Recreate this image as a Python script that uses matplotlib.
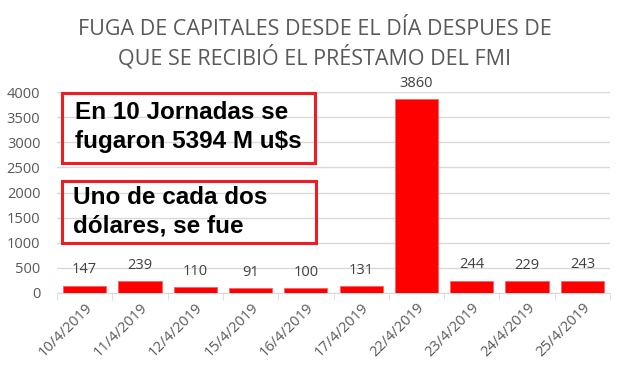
import matplotlib
matplotlib.use('Agg')
import matplotlib.pyplot as plt
import numpy as np

fechas = ['10/4/2019', '11/4/2019', '12/4/2019', '15/4/2019', '16/4/2019',
          '17/4/2019', '22/4/2019', '23/4/2019', '24/4/2019', '25/4/2019']
fuga = [147, 239, 110, 91, 100, 131, 3860, 244, 229, 243]
titulo = ['FUGA DE CAPITALES DESDE EL DÍA DESPUES DE', 'QUE SE RECIBIÓ EL PRÉSTAMO DEL FMI']
caja1 = ['En 10 Jornadas se', 'fugaron 5394 M u$s']
caja2 = ['Uno de cada dos', 'dólares, se fue']

gris = '#595959'
fig = plt.figure(figsize=(6.3, 3.75), dpi=100)
ax = fig.add_axes([57/630, 82/375, 553/630, 201/375])

x = np.arange(len(fechas))
ax.bar(x, fuga, width=0.78, color='#ff0000', edgecolor='#ff6060', linewidth=0.6, zorder=3)
for xi, v in zip(x, fuga):
    ax.annotate(str(v), (xi, v), xytext=(0, 6), textcoords='offset points',
                ha='center', va='bottom', fontsize=10.5, color='#404040', family='Open Sans')

ax.set_xlim(-0.5, len(fechas) - 0.5)
ax.set_ylim(0, 4000)
ax.set_yticks(np.arange(0, 4001, 500))
ax.yaxis.grid(True, color='#d9d9d9', linewidth=1, zorder=0)
for s in ['top', 'right', 'left']:
    ax.spines[s].set_visible(False)
ax.spines['bottom'].set_color('#d9d9d9')
ax.tick_params(axis='y', length=0, labelsize=10.5, labelcolor=gris, pad=12)
ax.set_xticks(x)
ax.set_xticklabels(fechas, rotation=45, ha='right', rotation_mode='anchor',
                   fontsize=10.5, color=gris)
ax.tick_params(axis='x', length=0, pad=5)
ax.set_xticks(np.arange(-0.5, len(fechas), 1), minor=True)
ax.tick_params(axis='x', which='minor', length=5, color='#d9d9d9')
for lab in ax.get_yticklabels() + ax.get_xticklabels():
    lab.set_family('Open Sans')

# titulo en dos renglones, cada uno en su linea base
for txt, yp in [(titulo[0], 35), (titulo[1], 64)]:
    fig.text(0.5, 1 - yp/375, txt, ha='center', va='baseline', fontsize=15.5,
             color=gris, family='Open Sans')

fig.patches.append(plt.Rectangle((62/630, 1 - 163/375), 253/630, 70/375,
                                 transform=fig.transFigure, fill=False,
                                 edgecolor='#ee1c24', linewidth=2.2, zorder=5))
fig.patches.append(plt.Rectangle((62/630, 1 - 243/375), 254/630, 62/375,
                                 transform=fig.transFigure, fill=False,
                                 edgecolor='#ee1c24', linewidth=2.2, zorder=5))
for txt, xp, yp in [(caja1[0], 75, 119), (caja1[1], 75, 148),
                    (caja2[0], 73, 204), (caja2[1], 73, 233)]:
    fig.text(xp/630, 1 - yp/375, txt, ha='left', va='baseline', fontsize=17.5,
             fontweight='bold', family='Liberation Sans')

fig.savefig('out.png', dpi=100)
